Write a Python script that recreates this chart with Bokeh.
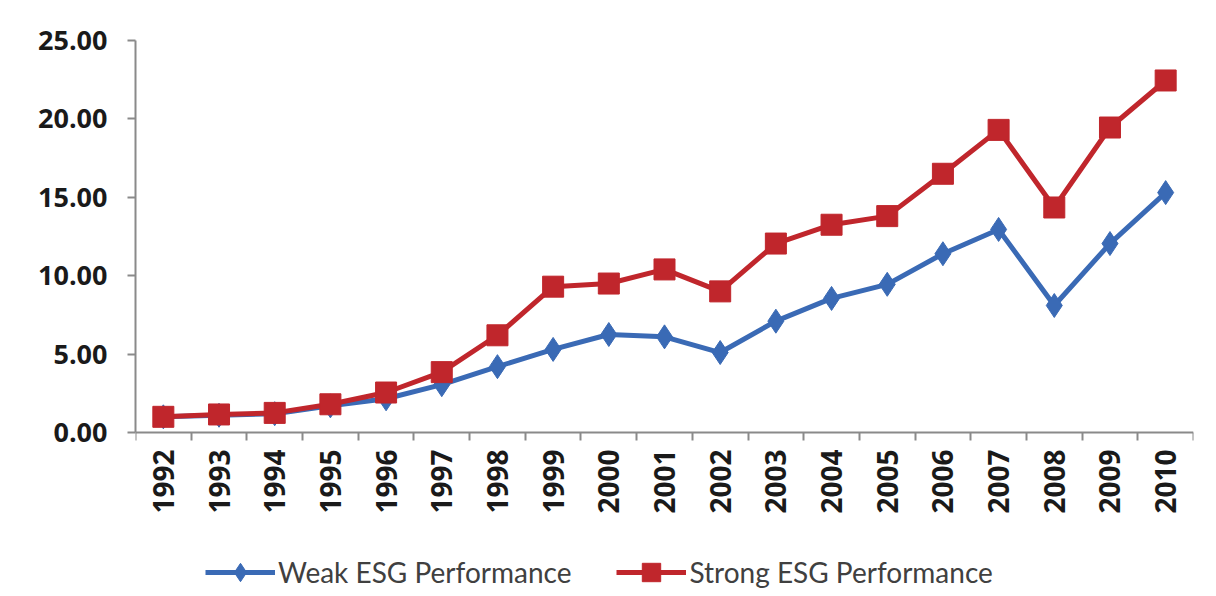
from bokeh.plotting import figure
from bokeh.models import (FixedTicker, NumeralTickFormatter, Legend, LegendItem, Range1d)
from bokeh.embed import file_html
from bokeh.resources import INLINE
import math

years = list(range(1992, 2011))
weak = [1.00, 1.10, 1.20, 1.70, 2.15, 3.05, 4.20, 5.30, 6.25, 6.10, 5.10,
        7.10, 8.55, 9.45, 11.40, 12.95, 8.10, 12.05, 15.30]
strong = [1.00, 1.15, 1.25, 1.80, 2.55, 3.85, 6.20, 9.30, 9.50, 10.40, 9.00,
          12.05, 13.25, 13.80, 16.50, 19.30, 14.35, 19.45, 22.45]
y_ticks = [0, 5, 10, 15, 20, 25]
weak_label = "Weak ESG Performance"
strong_label = "Strong ESG Performance"

BLUE = "#3a6ab5"
RED = "#c0262c"
FONT = "Open Sans"

# frame spans from the top of the value axis down to the bottom of the picture,
# so that the legend can sit inside it below the category axis
Y_MAX = 25
PX_PER_UNIT = 392 / 25
Y_MIN = Y_MAX - 556 / PX_PER_UNIT

p = figure(width=1200, height=596, output_backend="svg", toolbar_location=None,
           x_range=Range1d(years[0] - 0.5, years[-1] + 0.5),
           y_range=Range1d(Y_MIN, Y_MAX),
           min_border_left=135, min_border_right=7, min_border_top=40,
           min_border_bottom=0)
p.border_fill_color = "white"
p.background_fill_color = "white"
p.outline_line_color = None
p.xgrid.grid_line_color = None
p.ygrid.grid_line_color = None

# x axis: labels at category centres, tick marks between categories
xa = p.xaxis[0]
xa.fixed_location = 0
xa.ticker = FixedTicker(ticks=years, minor_ticks=[y - 0.5 for y in years] + [years[-1] + 0.5])
xa.major_tick_line_color = None
xa.minor_tick_in = 0
xa.minor_tick_out = 8
xa.minor_tick_line_color = "#8a8a8a"
xa.minor_tick_line_width = 2
xa.axis_line_color = "#8a8a8a"
xa.axis_line_width = 2
xa.major_label_orientation = math.pi / 2
xa.major_label_text_font = FONT
xa.major_label_text_font_style = "bold"
xa.major_label_text_font_size = "28px"
xa.major_label_text_color = "#1a1a1a"
xa.major_label_standoff = 9

ya = p.yaxis[0]
ya.bounds = (0, 25)
ya.ticker = FixedTicker(ticks=y_ticks)
ya.formatter = NumeralTickFormatter(format="0.00")
ya.major_tick_in = 0
ya.major_tick_out = 8
ya.major_tick_line_color = "#8a8a8a"
ya.major_tick_line_width = 2
ya.minor_tick_line_color = None
ya.axis_line_color = "#8a8a8a"
ya.axis_line_width = 2
ya.major_label_text_font = FONT
ya.major_label_text_font_style = "bold"
ya.major_label_text_font_size = "27px"
ya.major_label_text_color = "#1a1a1a"
ya.major_label_standoff = 20

lw = p.line(years, weak, line_color=BLUE, line_width=5)
mw = p.scatter(years, weak, marker="diamond", size=24, fill_color=BLUE, line_color=BLUE)
ls = p.line(years, strong, line_color=RED, line_width=5)
ms = p.scatter(years, strong, marker="square", size=21, fill_color=RED, line_color=RED)

legend = Legend(items=[LegendItem(label=weak_label, renderers=[lw, mw]),
                       LegendItem(label=strong_label, renderers=[ls, ms])],
                orientation="horizontal", location=(70, 1))
legend.label_text_font = "Lato"
legend.label_text_font_size = "28px"
legend.label_text_color = "#404040"
legend.glyph_width = 70
legend.glyph_height = 46
legend.label_standoff = 3
legend.spacing = 45
legend.margin = 0
legend.padding = 0
legend.border_line_color = None
legend.background_fill_alpha = 0
p.add_layout(legend, "center")

open("out.html", "w").write(file_html(p, INLINE))
